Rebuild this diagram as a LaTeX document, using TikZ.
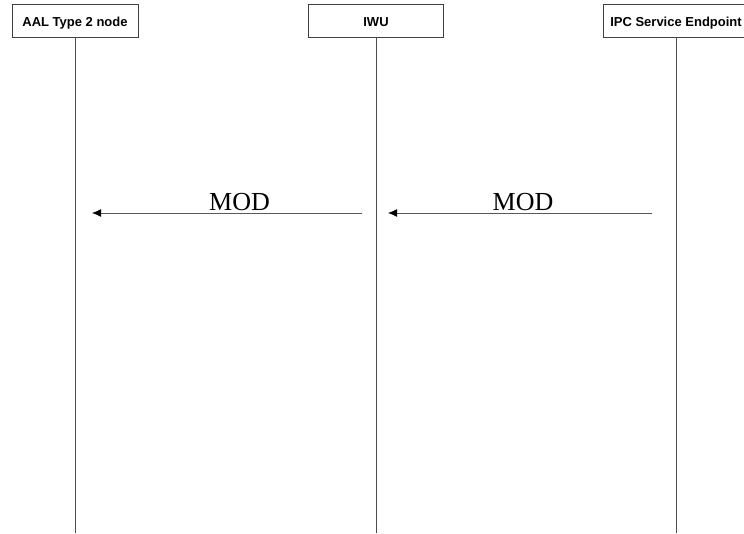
\documentclass[tikz,border=0pt]{standalone}
\usepackage{fontspec}
\setmainfont{Liberation Serif}
\newfontfamily\boxfont{Liberation Sans}
\usetikzlibrary{arrows.meta,positioning}

\tikzset{
  entity/.style={draw=black!75,line width=0.9pt,fill=white,minimum height=33pt,
    inner sep=2pt,text height=12pt,text depth=0pt,
    font=\boxfont\bfseries\fontsize{13pt}{15pt}\selectfont},
  lifeline/.style={draw=black!70,line width=0.9pt},
  msg/.style={draw=black!65,line width=1pt,-{Latex[length=9pt,width=8pt,fill=black,color=black]}},
  msglabel/.style={font=\fontsize{26pt}{28pt}\selectfont,inner sep=0pt,anchor=base}
}

\begin{document}
\begin{tikzpicture}[x=1pt,y=-1pt]
\useasboundingbox (0,0) rectangle (744,533);

% Entities
\node[entity,minimum width=126pt] (aal) at (75,20.5) {AAL Type 2 node};
\node[entity,minimum width=135pt] (iwu) at (376,20.5) {IWU};
\node[entity,minimum width=146pt] (ipc) at (676,20.5) {IPC Service Endpoint};

% Lifelines
\coordinate (aalend) at (75,533);
\coordinate (iwuend) at (376,533);
\coordinate (ipcend) at (676,533);
\draw[lifeline] (aal.south) -- (aalend);
\draw[lifeline] (iwu.south) -- (iwuend);
\draw[lifeline] (ipc.south) -- (ipcend);

% Messages
\coordinate (m1from) at (362,213);
\coordinate (m1to) at (92,213);
\coordinate (m2from) at (652,213);
\coordinate (m2to) at (388,213);
\draw[msg] (m1from) -- (m1to);
\draw[msg] (m2from) -- (m2to);
\node[msglabel] (mod1) at (239.5,210) {MOD};
\node[msglabel] (mod2) at (523,210) {MOD};
\end{tikzpicture}
\end{document}
